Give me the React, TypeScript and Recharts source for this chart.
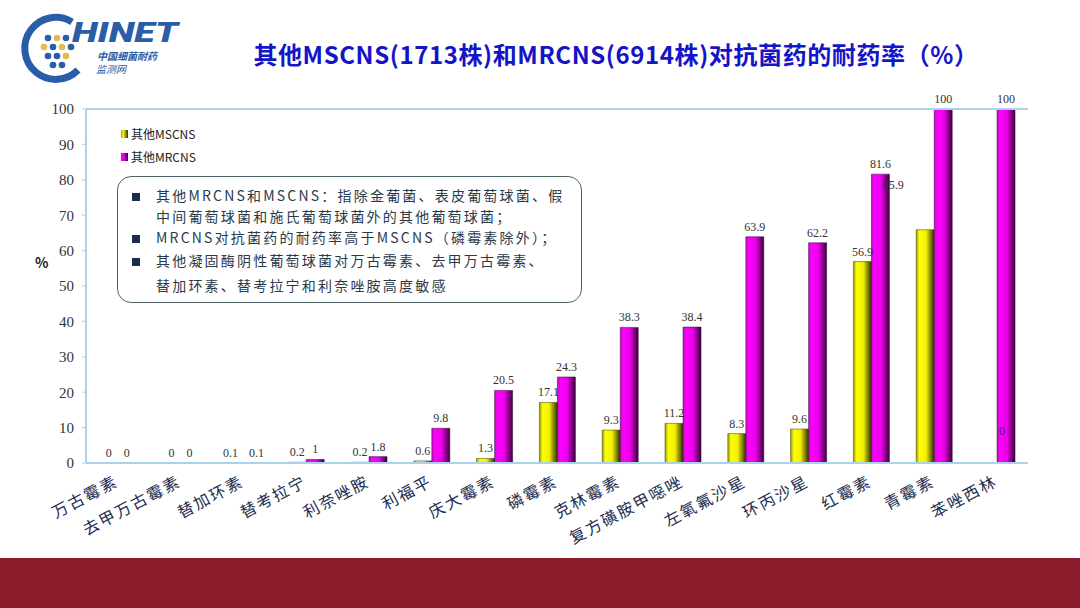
import { BarChart, Bar, XAxis, YAxis, LabelList, ReferenceLine } from 'recharts';

const categories = [
  '万古霉素', '去甲万古霉素', '替加环素', '替考拉宁', '利奈唑胺', '利福平', '庆大霉素', '磷霉素',
  '克林霉素', '复方磺胺甲噁唑', '左氧氟沙星', '环丙沙星', '红霉素', '青霉素', '苯唑西林',
];
const mscnsValues = [0, 0, 0.1, 0.2, 0.2, 0.6, 1.3, 17.1, 9.3, 11.2, 8.3, 9.6, 56.9, 65.9, 0];
const mrcnsValues = [0, 0, 0.1, 1, 1.8, 9.8, 20.5, 24.3, 38.3, 38.4, 63.9, 62.2, 81.6, 100, 100];
const yTicks = [0, 10, 20, 30, 40, 50, 60, 70, 80, 90, 100];

const data = categories.map((name, i) => ({ name, mscns: mscnsValues[i], mrcns: mrcnsValues[i] }));

const FRAME = '#a9d2ee';
const SERIF = '"Liberation Serif", "DejaVu Serif", serif';
const CJK = '"Noto Sans CJK SC", "Noto Sans", sans-serif';

// the original slide has a few labels pushed off their bars
const mscnsLabelShift: Record<number, [number, number]> = { 2: [-4, 0], 13: [-32, -35], 14: [14, -22] };
const mrcnsLabelShift: Record<number, [number, number]> = { 2: [4, 0] };

const makeLabel = (shift: Record<number, [number, number]>) => (props: any) => {
  const { x, y, width, height, value, index } = props;
  const [dx, dy] = shift[index] || [0, 0];
  const top = Math.min(y, y + height);
  return (
    <text
      x={x + width / 2 + dx}
      y={top - 6 + dy}
      textAnchor="middle"
      fontFamily={SERIF}
      fontSize={12}
      fill="#333"
    >
      {value}
    </text>
  );
};

const XTick = ({ x, y, payload }: any) => (
  <g transform={`translate(${x + 2},${y + 22})`}>
    <text
      textAnchor="end"
      transform="rotate(-28)"
      fontFamily={CJK}
      fontSize={16}
      letterSpacing={2}
      fill="#1e2d4e"
    >
      {payload.value}
    </text>
  </g>
);

const notes = [
  { bullet: true, text: '其他MRCNS和MSCNS：指除金葡菌、表皮葡萄球菌、假' },
  { bullet: false, text: '中间葡萄球菌和施氏葡萄球菌外的其他葡萄球菌；' },
  { bullet: true, text: 'MRCNS对抗菌药的耐药率高于MSCNS（磷霉素除外）；' },
  { bullet: true, text: '其他凝固酶阴性葡萄球菌对万古霉素、去甲万古霉素、' },
  { bullet: false, text: '替加环素、替考拉宁和利奈唑胺高度敏感' },
];

const Logo = () => (
  <svg width={200} height={90} style={{ position: 'absolute', left: 0, top: 0 }}>
    <path d="M 72 22 A 31 31 0 1 0 78 70" fill="none" stroke="#2a5da8" strokeWidth={7} />
    {[
      [48, 38, '#2a5da8'], [57, 38, '#e8b84a'], [66, 38, '#2a5da8'],
      [44, 47, '#e8b84a'], [53, 47, '#2a5da8'], [62, 47, '#e8b84a'], [71, 47, '#2a5da8'],
      [48, 56, '#2a5da8'], [57, 56, '#2a5da8'], [66, 56, '#e8b84a'],
      [53, 65, '#2a5da8'], [62, 65, '#2a5da8'],
    ].map(([cx, cy, c], i) => (
      <circle key={i} cx={cx as number} cy={cy as number} r={3.3} fill={c as string} />
    ))}
    <text x={72} y={42} textLength={106} lengthAdjust="spacingAndGlyphs" fontFamily="Roboto, sans-serif" fontStyle="italic" fontWeight={900} fontSize={27} fill="#2a5da8">
      HINET
    </text>
    <text x={97} y={60} fontFamily={CJK} fontStyle="italic" fontWeight={700} fontSize={10} fill="#2a5da8">
      中国细菌耐药
    </text>
    <text x={96} y={73} fontFamily={CJK} fontStyle="italic" fontSize={10} fill="#2a5da8">
      监测网
    </text>
  </svg>
);

export default function App() {
  return (
    <div style={{ position: 'absolute', left: 0, top: 0, width: 1080, height: 608, background: '#fff', overflow: 'hidden' }}>
      <Logo />
      <div
        style={{
          position: 'absolute', left: 244, top: 36, width: 744, textAlign: 'center',
          fontFamily: CJK, fontWeight: 700, fontSize: 24, letterSpacing: 0.6, color: '#1414c8', whiteSpace: 'nowrap',
        }}
      >
        其他MSCNS(1713株)和MRCNS(6914株)对抗菌药的耐药率（%）
      </div>

      <div style={{ position: 'absolute', left: 35, top: 252, fontFamily: CJK, fontSize: 14, fontWeight: 700, color: '#222' }}>%</div>

      <BarChart
        width={1080}
        height={608}
        data={data}
        margin={{ top: 109, right: 52, left: 26, bottom: 65 }}
        barCategoryGap="22%"
        barGap={0}
      >
        <defs>
          <linearGradient id="gYellow" x1="0" y1="0" x2="1" y2="0">
            <stop offset="0%" stopColor="#9a9a10" />
            <stop offset="18%" stopColor="#ffff00" />
            <stop offset="55%" stopColor="#f0f000" />
            <stop offset="100%" stopColor="#2e2e00" />
          </linearGradient>
          <linearGradient id="gMagenta" x1="0" y1="0" x2="1" y2="0">
            <stop offset="0%" stopColor="#c010c0" />
            <stop offset="18%" stopColor="#ff00ff" />
            <stop offset="55%" stopColor="#e800e8" />
            <stop offset="100%" stopColor="#3a003a" />
          </linearGradient>
        </defs>
        <XAxis
          dataKey="name"
          interval={0}
          height={80}
          tickSize={0}
          tickMargin={0}
          tick={<XTick />}
          axisLine={{ stroke: FRAME, strokeWidth: 2 }}
        />
        <YAxis
          width={60}
          domain={[0, 100]}
          ticks={yTicks}
          interval={0}
          tick={{ fontFamily: SERIF, fontSize: 15, fill: '#333' }}
          tickLine={{ stroke: FRAME }}
          tickSize={4}
          tickMargin={8}
          axisLine={{ stroke: FRAME, strokeWidth: 2 }}
        />
        <YAxis
          yAxisId="frame"
          orientation="right"
          width={0}
          domain={[0, 100]}
          tick={false}
          tickLine={false}
          axisLine={{ stroke: FRAME, strokeWidth: 2 }}
        />
        <ReferenceLine y={100} stroke={FRAME} strokeWidth={2} />
        <Bar dataKey="mscns" name="其他MSCNS" fill="url(#gYellow)" stroke="#3a3a00" strokeWidth={0.5} minPointSize={0.1} isAnimationActive={false}>
          <LabelList dataKey="mscns" content={makeLabel(mscnsLabelShift)} />
        </Bar>
        <Bar dataKey="mrcns" name="其他MRCNS" fill="url(#gMagenta)" stroke="#300030" strokeWidth={0.5} minPointSize={0.1} isAnimationActive={false}>
          <LabelList dataKey="mrcns" content={makeLabel(mrcnsLabelShift)} />
        </Bar>
      </BarChart>

      <div style={{ position: 'absolute', left: 121, top: 122, fontFamily: CJK, fontSize: 12, color: '#222', lineHeight: '23px' }}>
        <div style={{ display: 'flex', alignItems: 'center' }}>
          <span style={{ display: 'inline-block', width: 7, height: 8, marginRight: 3, background: 'linear-gradient(90deg,#9a9a10,#ffff00 30%,#2e2e00)' }} />
          其他MSCNS
        </div>
        <div style={{ display: 'flex', alignItems: 'center' }}>
          <span style={{ display: 'inline-block', width: 7, height: 8, marginRight: 3, background: 'linear-gradient(90deg,#c010c0,#ff00ff 30%,#3a003a)' }} />
          其他MRCNS
        </div>
      </div>

      <div
        style={{
          position: 'absolute', left: 117, top: 176, width: 465, height: 127, boxSizing: 'border-box',
          border: '1.5px solid #4e6266', borderRadius: 14, background: '#fff',
          fontFamily: CJK, fontSize: 14, color: '#2b3a4a', padding: '7px 0 0 14px',
        }}
      >
        {notes.map((n, i) => (
          <div key={i} style={{ display: 'flex', alignItems: 'center', height: i >= 3 ? 25 : 21, letterSpacing: 2.2, whiteSpace: 'nowrap' }}>
            <span style={{ display: 'inline-block', width: 24 }}>
              {n.bullet && <span style={{ display: 'inline-block', width: 8, height: 8, background: '#1c2e4e' }} />}
            </span>
            {n.text}
          </div>
        ))}
      </div>

      <div style={{ position: 'absolute', left: 0, top: 558, width: 1080, height: 50, background: '#8c1b2c' }} />
    </div>
  );
}
